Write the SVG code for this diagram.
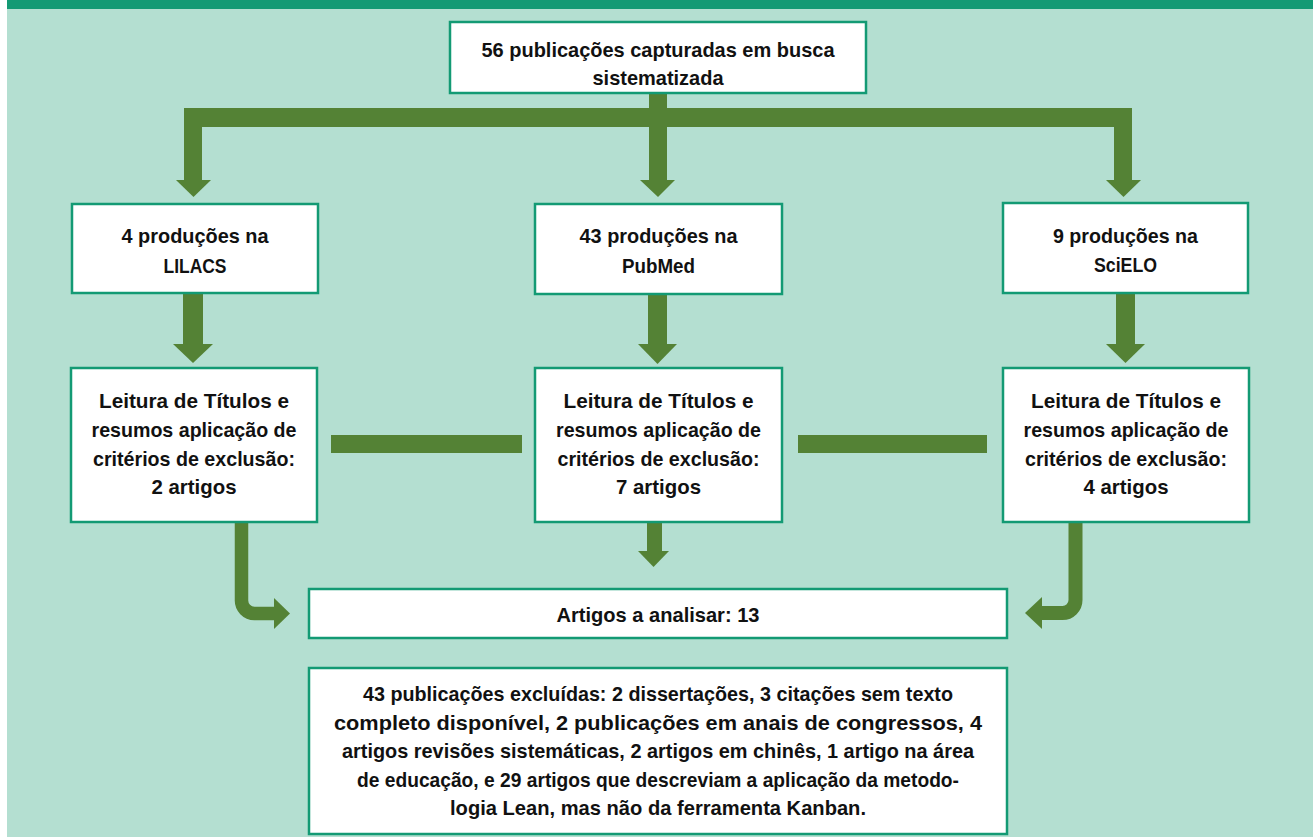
<svg xmlns="http://www.w3.org/2000/svg" width="1313" height="837" viewBox="0 0 1313 837">
<style>
.box{fill:#ffffff;stroke:#139a74;stroke-width:2.5}
.t{font-family:"Liberation Sans",Arial,sans-serif;font-weight:bold;font-size:21px;fill:#111111;text-anchor:middle}
.ar{fill:#548235}
.sh{fill:none;stroke:#548235}
</style>
<rect x="0" y="0" width="1313" height="837" fill="#ffffff"/>
<rect x="7" y="0" width="1306" height="837" fill="#b4dfd1"/>
<rect x="7" y="0" width="1306" height="9" fill="#139a74"/>
<g id="connectors">
<rect class="ar" x="184" y="108" width="948" height="19"/>
<rect class="ar" x="649" y="93" width="18" height="35"/>
<rect class="ar" x="184" y="108" width="18" height="73"/>
<polygon class="ar" points="176,180 211,180 193.5,197"/>
<rect class="ar" x="649" y="108" width="18" height="73"/>
<polygon class="ar" points="640,180 675,180 658,197"/>
<rect class="ar" x="1114" y="108" width="18" height="73"/>
<polygon class="ar" points="1106,180 1141,180 1123.5,197"/>
<rect class="ar" x="183" y="293" width="20" height="52"/>
<polygon class="ar" points="173,344 213,344 193,363"/>
<rect class="ar" x="648" y="294" width="19" height="51"/>
<polygon class="ar" points="638,344 677,344 657.5,364"/>
<rect class="ar" x="1116" y="293" width="19" height="52"/>
<polygon class="ar" points="1106,344 1145,344 1125.5,363"/>
<rect class="ar" x="331" y="435" width="191" height="18"/>
<rect class="ar" x="798" y="435" width="189" height="18"/>
<rect class="ar" x="647" y="522" width="15" height="30"/>
<polygon class="ar" points="638,551 669,551 653.5,567"/>
<path class="sh" stroke-width="13.5" d="M241.5 522 V600 A13 13 0 0 0 254.5 613.5 H276"/>
<polygon class="ar" points="274,598 290,613.5 274,629"/>
<path class="sh" stroke-width="14" d="M1075.5 522 V600 A13 13 0 0 1 1062.5 613 H1040"/>
<polygon class="ar" points="1042,597 1025,613 1042,629"/>
</g>
<g id="n-top">
<rect class="box" x="450" y="22" width="416" height="71"/>
<text class="t" x="658" y="57" textLength="353" lengthAdjust="spacingAndGlyphs">56 publicações capturadas em busca</text>
<text class="t" x="658" y="85" textLength="131" lengthAdjust="spacingAndGlyphs">sistematizada</text>
</g>
<g id="n-lilacs">
<rect class="box" x="72" y="204" width="246" height="89"/>
<text class="t" x="195" y="243" textLength="147" lengthAdjust="spacingAndGlyphs">4 produções na</text>
<text class="t" x="195" y="273" textLength="63" lengthAdjust="spacingAndGlyphs">LILACS</text>
</g>
<g id="n-pubmed">
<rect class="box" x="535" y="204" width="247" height="90"/>
<text class="t" x="658.5" y="243" textLength="158" lengthAdjust="spacingAndGlyphs">43 produções na</text>
<text class="t" x="658.5" y="273" textLength="73" lengthAdjust="spacingAndGlyphs">PubMed</text>
</g>
<g id="n-scielo">
<rect class="box" x="1003" y="203" width="245" height="90"/>
<text class="t" x="1125.5" y="243" textLength="145" lengthAdjust="spacingAndGlyphs">9 produções na</text>
<text class="t" x="1125.5" y="272" textLength="63" lengthAdjust="spacingAndGlyphs">SciELO</text>
</g>
<g id="n-leitura1">
<rect class="box" x="71" y="368" width="246" height="154"/>
<text class="t" x="194" y="408" textLength="190" lengthAdjust="spacingAndGlyphs">Leitura de Títulos e</text>
<text class="t" x="194" y="437" textLength="205" lengthAdjust="spacingAndGlyphs">resumos aplicação de</text>
<text class="t" x="194" y="466" textLength="202" lengthAdjust="spacingAndGlyphs">critérios de exclusão:</text>
<text class="t" x="194" y="494" textLength="85" lengthAdjust="spacingAndGlyphs">2 artigos</text>
</g>
<g id="n-leitura2">
<rect class="box" x="535" y="368" width="247" height="154"/>
<text class="t" x="658.5" y="408" textLength="190" lengthAdjust="spacingAndGlyphs">Leitura de Títulos e</text>
<text class="t" x="658.5" y="437" textLength="205" lengthAdjust="spacingAndGlyphs">resumos aplicação de</text>
<text class="t" x="658.5" y="466" textLength="202" lengthAdjust="spacingAndGlyphs">critérios de exclusão:</text>
<text class="t" x="658.5" y="494" textLength="85" lengthAdjust="spacingAndGlyphs">7 artigos</text>
</g>
<g id="n-leitura3">
<rect class="box" x="1003" y="368" width="246" height="154"/>
<text class="t" x="1126" y="408" textLength="190" lengthAdjust="spacingAndGlyphs">Leitura de Títulos e</text>
<text class="t" x="1126" y="437" textLength="205" lengthAdjust="spacingAndGlyphs">resumos aplicação de</text>
<text class="t" x="1126" y="466" textLength="202" lengthAdjust="spacingAndGlyphs">critérios de exclusão:</text>
<text class="t" x="1126" y="494" textLength="85" lengthAdjust="spacingAndGlyphs">4 artigos</text>
</g>
<g id="n-artigos">
<rect class="box" x="309" y="589" width="698" height="49"/>
<text class="t" x="658" y="622" textLength="203" lengthAdjust="spacingAndGlyphs">Artigos a analisar: 13</text>
</g>
<g id="n-excluidas">
<rect class="box" x="309" y="668" width="698" height="166"/>
<text class="t" x="658" y="701" textLength="590" lengthAdjust="spacingAndGlyphs">43 publicações excluídas: 2 dissertações, 3 citações sem texto</text>
<text class="t" x="658" y="730" textLength="648" lengthAdjust="spacingAndGlyphs">completo disponível, 2 publicações em anais de congressos, 4</text>
<text class="t" x="658" y="758" textLength="632" lengthAdjust="spacingAndGlyphs">artigos revisões sistemáticas, 2 artigos em chinês, 1 artigo na área</text>
<text class="t" x="658" y="787" textLength="602" lengthAdjust="spacingAndGlyphs">de educação, e 29 artigos que descreviam a aplicação da metodo-</text>
<text class="t" x="658" y="815" textLength="416" lengthAdjust="spacingAndGlyphs">logia Lean, mas não da ferramenta Kanban.</text>
</g>
</svg>
